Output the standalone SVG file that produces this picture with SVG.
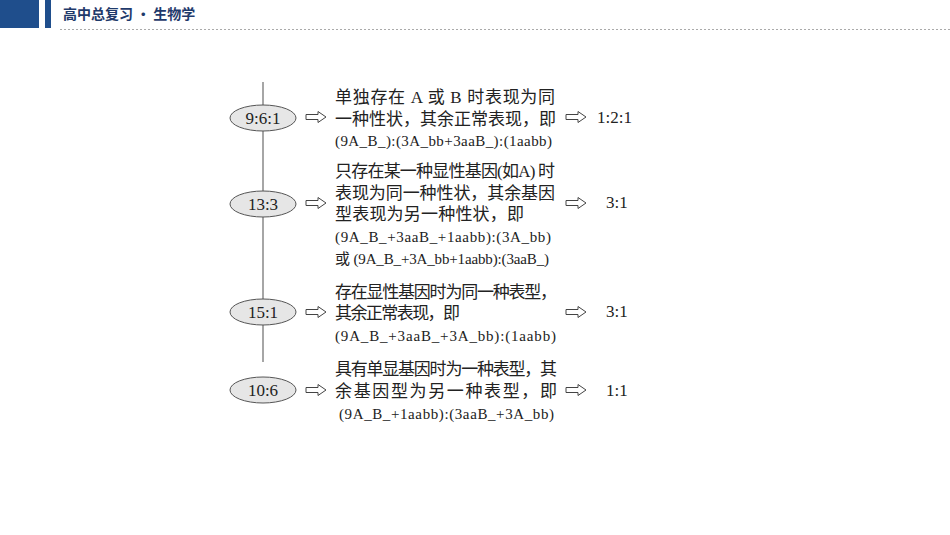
<svg xmlns="http://www.w3.org/2000/svg" xmlns:xlink="http://www.w3.org/1999/xlink" width="950" height="535" viewBox="0 0 950 535">
<style>
.t{font-family:"Liberation Serif","Noto Sans CJK SC",serif;font-size:17px;fill:#222}
.f{font-size:15px}
.e{fill:#e6e6e6;stroke:#555;stroke-width:1}
.a{fill:none;stroke:#444;stroke-width:1}
</style>
<defs>
<path id="ar" class="a" d="M0,-2.5 H12 V-5.5 L20,0 L12,5.5 V2.5 H0 Z"/>
</defs>
<rect x="0" y="0" width="950" height="535" fill="#fff"/>
<g id="header">
<rect x="0" y="0" width="39" height="28" fill="#1f4e8c"/>
<rect x="45" y="0" width="6" height="28" fill="#1f4e8c"/>
<text x="63" y="19" font-family="Noto Sans CJK SC,sans-serif" font-size="14" font-weight="bold" fill="#1f3a6b">高中总复习 · 生物学</text>
<line x1="60" y1="29.5" x2="950" y2="29.5" stroke="#aaa" stroke-dasharray="2,2"/>
</g>
<g id="connectors">
<line x1="263" y1="82" x2="263" y2="362" stroke="#888" stroke-width="1.5"/>
<use xlink:href="#ar" x="306" y="117"/><use xlink:href="#ar" x="566" y="117"/>
<use xlink:href="#ar" x="306" y="203"/><use xlink:href="#ar" x="566" y="203"/>
<use xlink:href="#ar" x="306" y="312"/><use xlink:href="#ar" x="566" y="312"/>
<use xlink:href="#ar" x="306" y="390"/><use xlink:href="#ar" x="566" y="390"/>
</g>
<g id="n1"><ellipse class="e" cx="263" cy="118" rx="33" ry="13"/><text class="t" x="263" y="124" text-anchor="middle">9:6:1</text>
<text class="t" x="335" y="103" textLength="220" lengthAdjust="spacing">单独存在 A 或 B 时表现为同</text>
<text class="t" x="335" y="125" textLength="221" lengthAdjust="spacing">一种性状，其余正常表现，即</text>
<text class="t f" x="335" y="146" textLength="217">(9A_B_):(3A_bb+3aaB_):(1aabb)</text>
<text class="t" x="597" y="123">1:2:1</text></g>
<g id="n2"><ellipse class="e" cx="263" cy="204" rx="33" ry="13"/><text class="t" x="263" y="210" text-anchor="middle">13:3</text>
<text class="t" x="335" y="177" textLength="220" lengthAdjust="spacing">只存在某一种显性基因(如A) 时</text>
<text class="t" x="335" y="199" textLength="220" lengthAdjust="spacing">表现为同一种性状，其余基因</text>
<text class="t" x="335" y="220" textLength="189" lengthAdjust="spacing">型表现为另一种性状，即</text>
<text class="t f" x="335" y="242" textLength="216">(9A_B_+3aaB_+1aabb):(3A_bb)</text>
<text class="t f" x="335" y="264" textLength="214">或 (9A_B_+3A_bb+1aabb):(3aaB_)</text>
<text class="t" x="606" y="208">3:1</text></g>
<g id="n3"><ellipse class="e" cx="263" cy="312" rx="33" ry="13"/><text class="t" x="263" y="318" text-anchor="middle">15:1</text>
<text class="t" x="335" y="298" textLength="222" lengthAdjust="spacing">存在显性基因时为同一种表型，</text>
<text class="t" x="335" y="319" textLength="125" lengthAdjust="spacing">其余正常表现，即</text>
<text class="t f" x="335" y="341" textLength="221">(9A_B_+3aaB_+3A_bb):(1aabb)</text>
<text class="t" x="606" y="317">3:1</text></g>
<g id="n4"><ellipse class="e" cx="263" cy="390" rx="33" ry="13"/><text class="t" x="263" y="396" text-anchor="middle">10:6</text>
<text class="t" x="335" y="375" textLength="222" lengthAdjust="spacing">具有单显基因时为一种表型，其</text>
<text class="t" x="335" y="397" textLength="222" lengthAdjust="spacing">余基因型为另一种表型，即</text>
<text class="t f" x="339" y="419" textLength="215">(9A_B_+1aabb):(3aaB_+3A_bb)</text>
<text class="t" x="606" y="396">1:1</text></g>
</svg>
